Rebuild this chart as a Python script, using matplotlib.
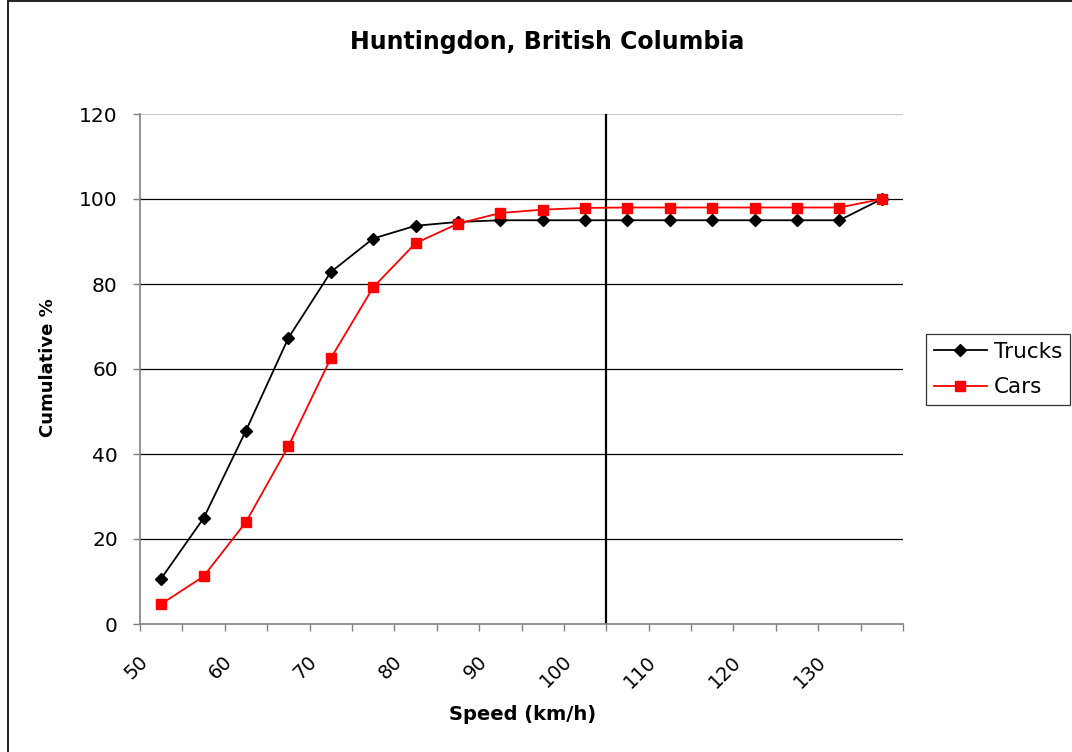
"""Cumulative speed distribution for trucks and cars at Huntingdon, BC."""
import matplotlib
matplotlib.use("Agg")
import matplotlib.pyplot as plt
import matplotlib.transforms as mtransforms
from matplotlib.lines import Line2D

# bin midpoints (km/h) and cumulative percentages
speeds = [52.5, 57.5, 62.5, 67.5, 72.5, 77.5, 82.5, 87.5, 92.5, 97.5,
          102.5, 107.5, 112.5, 117.5, 122.5, 127.5, 132.5, 137.5]
trucks = [10.7, 24.9, 45.5, 67.3, 82.8, 90.7, 93.7, 94.6, 95.0, 95.0,
          95.0, 95.0, 95.0, 95.0, 95.0, 95.0, 95.0, 100.0]
cars = [4.7, 11.2, 24.0, 41.8, 62.5, 79.2, 89.6, 94.2, 96.7, 97.5,
        97.9, 98.0, 98.0, 98.0, 98.0, 98.0, 98.0, 100.0]
speed_limit = 105
x_labels = [50, 60, 70, 80, 90, 100, 110, 120, 130]
y_ticks = [0, 20, 40, 60, 80, 100, 120]

plt.rcParams["font.family"] = ["DejaVu Sans"]

fig = plt.figure(figsize=(10.72, 7.52), dpi=100)
ax = fig.add_axes([140 / 1072, 1 - 624 / 752, 763 / 1072, 510 / 752])

ax.set_xlim(50, 140)
ax.set_ylim(0, 120)

for y in y_ticks[1:-1]:
    ax.axhline(y, color="black", lw=0.9, zorder=1)
ax.axhline(y_ticks[-1], color="#c8c8c8", lw=0.9, zorder=1)

ax.axvline(speed_limit, color="black", lw=1.6, zorder=2)

ax.plot(speeds, trucks, color="black", lw=1.3, marker="D", ms=6.2,
        label="Trucks", zorder=3)
ax.plot(speeds, cars, color="#ff0000", lw=1.3, marker="s", ms=7,
        label="Cars", zorder=4)

ax.set_yticks(y_ticks)
ax.set_yticklabels([str(v) for v in y_ticks], fontsize=14.5)
ticks = list(range(50, 141, 5))
ax.set_xticks(ticks)
ax.set_xticklabels([str(v) if v in x_labels else "" for v in ticks],
                   fontsize=14, rotation=45, ha="right", va="top",
                   rotation_mode="anchor")
ax.tick_params(axis="x", direction="out", length=5, width=1, color="#808080", pad=15)
ax.tick_params(axis="y", direction="out", length=5, width=1, color="#808080", pad=11)
# nudge rotated labels slightly left so they sit under their ticks
offset = mtransforms.ScaledTranslation(-2 / 100, 0, fig.dpi_scale_trans)
for lbl in ax.get_xticklabels():
    lbl.set_transform(lbl.get_transform() + offset)

for side in ("top", "right"):
    ax.spines[side].set_visible(False)
for side in ("left", "bottom"):
    ax.spines[side].set_color("#808080")
    ax.spines[side].set_linewidth(1.2)

fig.text(547 / 1072, 1 - 42 / 752, "Huntingdon, British Columbia",
         fontsize=17, fontweight="bold", ha="center", va="center")
fig.text(523 / 1072, 1 - 715 / 752, "Speed (km/h)",
         fontsize=14, fontweight="bold", ha="center", va="center")
fig.text(48 / 1072, 1 - 368 / 752, "Cumulative %",
         fontsize=13, fontweight="bold", ha="center", va="center", rotation=90)

leg = fig.legend(loc="upper left", bbox_to_anchor=(926 / 1072, 1 - 334 / 752),
                 fontsize=15.5, frameon=True, fancybox=False, edgecolor="black",
                 handlelength=2.5, borderpad=0.35, labelspacing=0.72,
                 handletextpad=0.3, borderaxespad=0)
leg.get_frame().set_linewidth(0.9)

# chart frame: left and top edges only
fig.add_artist(Line2D([8 / 1072, 8 / 1072], [0, 1 - 1 / 752],
                      transform=fig.transFigure, color="#202020", lw=1.4))
fig.add_artist(Line2D([8 / 1072, 1], [1 - 1 / 752, 1 - 1 / 752],
                      transform=fig.transFigure, color="#202020", lw=1.4))

fig.savefig("out.png", dpi=100)
